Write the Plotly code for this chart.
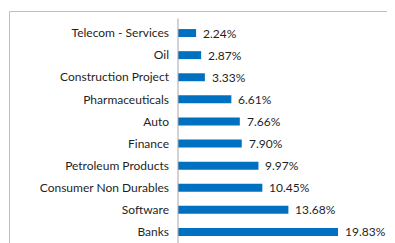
import plotly.graph_objects as go

categories = ["Telecom - Services", "Oil", "Construction Project", "Pharmaceuticals",
              "Auto", "Finance", "Petroleum Products", "Consumer Non Durables",
              "Software", "Banks"]
values = [2.24, 2.87, 3.33, 6.61, 7.66, 7.90, 9.97, 10.45, 13.68, 19.83]
labels = [f"{v:.2f}%" for v in values]

# page has an 8px body margin, so figure coordinates are page - 8
W, H = 395, 243
L, T, B = 170, 14, 8
pw, ph = W - L, H - T - B

fig = go.Figure(go.Bar(
    x=values, y=categories, orientation="h",
    marker=dict(color="#0070C0", line=dict(width=0)),
    width=0.36, hoverinfo="x+y",
))

annotations = [dict(x=v, y=c, text=t, xref="x", yref="y", xanchor="left", yanchor="middle",
                    xshift=5, showarrow=False,
                    font=dict(family="Lato", size=12, color="#1f1f1f"))
               for v, c, t in zip(values, categories, labels)]

fig.update_layout(
    width=W, height=H,
    margin=dict(l=L, r=0, t=T, b=B, autoexpand=False),
    paper_bgcolor="white", plot_bgcolor="white",
    showlegend=False,
    font=dict(family="Lato", size=12, color="#1f1f1f"),
    xaxis=dict(range=[0, pw / 8.07], visible=False, showgrid=False, zeroline=False,
               automargin=False),
    yaxis=dict(autorange="reversed", showline=False,
               ticks="", ticklabelstandoff=8, showgrid=False, automargin=False,
               tickfont=dict(family="Lato", size=12, color="#1f1f1f")),
    annotations=annotations,
    shapes=[
        dict(type="rect", xref="paper", yref="paper",
             x0=(1.5 - L) / pw, x1=1.05, y0=-0.1, y1=(H - B - 3.5) / ph,
             line=dict(color="#BFBFBF", width=1), fillcolor="rgba(0,0,0,0)", layer="below"),
        dict(type="line", xref="paper", yref="paper",
             x0=0, x1=0, y0=-0.1, y1=(H - B - 10.5) / ph,
             line=dict(color="#A6A6A6", width=1)),
    ],
)

fig.write_html("out.html")
